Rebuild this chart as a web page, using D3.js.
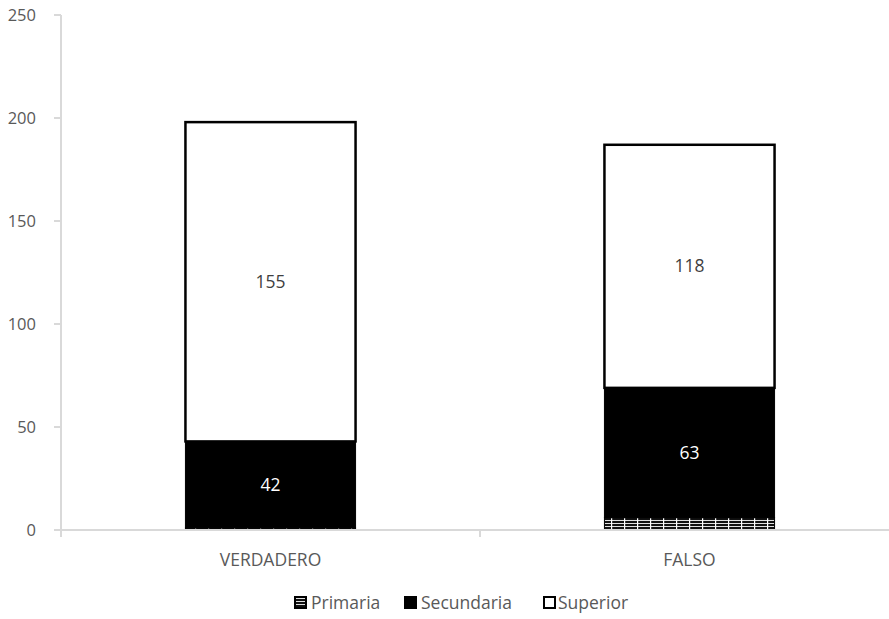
<!DOCTYPE html>
<html>
<head>
<meta charset="utf-8">
<script src="https://cdn.jsdelivr.net/npm/d3@7"></script>
<style>
  body { margin: 0; background: #fff; }
  svg { display: block; font-family: "Open Sans", sans-serif; }
</style>
</head>
<body>
<svg id="chart" width="889" height="619"></svg>
<script>
// Categories and series values
const categories = ["VERDADERO", "FALSO"];
const seriesNames = ["Primaria", "Secundaria", "Superior"];
const primaria = [1, 6];
const secundaria = [42, 63];
const superior = [155, 118];
const yTicks = [0, 50, 100, 150, 200, 250];

const rows = categories.map((c, i) => ({
  cat: c, Primaria: primaria[i], Secundaria: secundaria[i], Superior: superior[i]
}));

const svg = d3.select("#chart");

const x = d3.scaleBand().domain(categories).range([61, 899])
  .paddingInner(0.594).paddingOuter(0.297);
const y = d3.scaleLinear().domain([0, 250]).range([530, 15]);

// pattern for Primaria: dark bands with thin light lines
const defs = svg.append("defs");
const pat = defs.append("pattern").attr("id", "prim")
  .attr("patternUnits", "userSpaceOnUse").attr("width", 13).attr("height", 3);
pat.append("rect").attr("width", 13).attr("height", 3).attr("fill", "#111");
pat.append("rect").attr("y", 1).attr("width", 13).attr("height", 1).attr("fill", "#e0e0e0");
pat.append("rect").attr("x", 0).attr("width", 1.2).attr("height", 3).attr("fill", "#fff");

const legPat = defs.append("pattern").attr("id", "primLeg")
  .attr("patternUnits", "userSpaceOnUse").attr("width", 20).attr("height", 3);
legPat.append("rect").attr("width", 20).attr("height", 3).attr("fill", "#111");
legPat.append("rect").attr("y", 1).attr("width", 20).attr("height", 1).attr("fill", "#e0e0e0");

// y axis
const axisColor = "#d9d9d9";
const gy = svg.append("g");
gy.append("line").attr("x1", 61).attr("x2", 61).attr("y1", y(250)).attr("y2", 537)
  .attr("stroke", axisColor).attr("stroke-width", 2);
yTicks.forEach(t => {
  gy.append("line").attr("x1", 54).attr("x2", 61).attr("y1", y(t)).attr("y2", y(t))
    .attr("stroke", axisColor).attr("stroke-width", 2);
  gy.append("text").attr("x", 36).attr("y", y(t)).attr("dy", "0.35em")
    .attr("text-anchor", "end").attr("fill", "#595959").attr("font-size", 16.5).text(t);
});

// stacked bars
const stack = d3.stack().keys(seriesNames)(rows);
const fills = { Primaria: "url(#prim)", Secundaria: "#000", Superior: "#fff" };
const g = svg.append("g");
stack.forEach(s => {
  g.selectAll(null).data(s).enter().append("rect")
    .attr("x", d => x(d.data.cat))
    .attr("width", x.bandwidth())
    .attr("y", d => y(d[1]))
    .attr("height", d => y(d[0]) - y(d[1]))
    .attr("fill", fills[s.key])
    .attr("stroke", "#000")
    .attr("stroke-width", s.key === "Superior" ? 2.5 : 1);
});

// x axis
const step = x.step();
const gap = step - x.bandwidth();
svg.append("line").attr("x1", 61).attr("x2", 899).attr("y1", 530).attr("y2", 530)
  .attr("stroke", axisColor).attr("stroke-width", 2);
categories.forEach(c => {
  const bx = x(c) - gap / 2 + step;
  svg.append("line").attr("x1", bx).attr("x2", bx).attr("y1", 530).attr("y2", 537)
    .attr("stroke", axisColor).attr("stroke-width", 2);
  svg.append("text").attr("x", x(c) + x.bandwidth() / 2).attr("y", 560)
    .attr("dy", "0.35em").attr("text-anchor", "middle").attr("fill", "#595959")
    .attr("font-size", 17.5).text(c);
});

// data labels for Secundaria and Superior
stack.filter(s => s.key !== "Primaria").forEach(s => {
  g.selectAll(null).data(s).enter().append("text")
    .attr("x", d => x(d.data.cat) + x.bandwidth() / 2)
    .attr("y", d => (y(d[0]) + y(d[1])) / 2)
    .attr("dy", "0.35em").attr("text-anchor", "middle").attr("font-size", 17.5)
    .attr("fill", s.key === "Secundaria" ? "#fff" : "#404040")
    .text(d => d.data[s.key]);
});

// legend
const legendItems = [
  { name: "Primaria", x: 295, tx: 311, fill: "url(#primLeg)" },
  { name: "Secundaria", x: 405, tx: 421, fill: "#000" },
  { name: "Superior", x: 544, tx: 558, fill: "#fff" }
];
const lg = svg.append("g");
legendItems.forEach(it => {
  lg.append("rect").attr("x", it.x).attr("y", 597).attr("width", 11).attr("height", 11)
    .attr("fill", it.fill).attr("stroke", "#000").attr("stroke-width", 2);
  lg.append("text").attr("x", it.tx).attr("y", 603).attr("dy", "0.35em")
    .attr("fill", "#595959").attr("font-size", 17.5).text(it.name);
});
</script>
</body>
</html>
